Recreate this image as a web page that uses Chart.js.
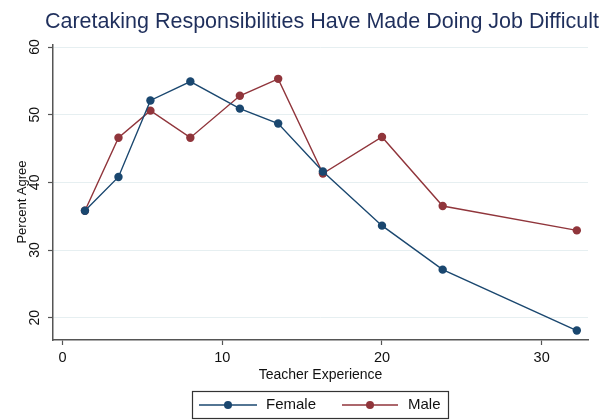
<!DOCTYPE html>
<html>
<head>
<meta charset="utf-8">
<script src="https://cdn.jsdelivr.net/npm/chart.js@4.4.1/dist/chart.umd.min.js"></script>
<style>
html,body{margin:0;padding:0;background:#fff;}
#wrap{width:612px;height:420px;position:relative;}
</style>
</head>
<body>
<div id="wrap"><canvas id="c" width="612" height="420"></canvas></div>
<script>
const titleText = "Caretaking Responsibilities Have Made Doing Job Difficult";
const xTitle = "Teacher Experience";
const yTitle = "Percent Agree";
const experience = [1.4, 3.5, 5.5, 8.0, 11.1, 13.5, 16.3, 20.0, 23.8, 32.2];
const femaleVals = [35.8, 40.8, 52.1, 54.9, 50.9, 48.7, 41.6, 33.6, 27.1, 18.1];
const maleVals   = [35.8, 46.6, 50.6, 46.6, 52.8, 55.3, 41.3, 46.7, 36.5, 32.9];
const seriesNames = ["Female", "Male"];
const seriesColors = ["#1a476f", "#90353b"];
const xTicks = [0, 10, 20, 30];
const yTicks = [20, 30, 40, 50, 60];

const FONT = "'Liberation Sans', Arial, sans-serif";

function pts(vals){ return experience.map((x,i)=>({x:x, y:vals[i]})); }

const custom = {
  id: 'custom',
  afterDraw(chart){
    const ctx = chart.ctx;
    const ca = chart.chartArea;
    const ys = chart.scales.y;
    const xs = chart.scales.x;
    ctx.save();
    // title
    ctx.fillStyle = '#1f2f5c';
    ctx.font = '21.5px ' + FONT;
    ctx.textAlign = 'center';
    ctx.textBaseline = 'middle';
    ctx.fillText(titleText, 322, 22);
    // y tick labels rotated
    ctx.fillStyle = '#111';
    ctx.font = '14px ' + FONT;
    yTicks.forEach(v=>{
      const py = ys.getPixelForValue(v);
      ctx.save();
      ctx.translate(35, py);
      ctx.rotate(-Math.PI/2);
      ctx.textAlign='center'; ctx.textBaseline='middle';
      ctx.fillText(String(v), 0, 0);
      ctx.restore();
    });
    // x tick labels
    ctx.font = '14.5px ' + FONT;
    ctx.textAlign='center'; ctx.textBaseline='middle';
    xTicks.forEach(v=>{
      ctx.fillText(String(v), xs.getPixelForValue(v), 358);
    });
    // y title
    ctx.save();
    ctx.translate(22, 202);
    ctx.rotate(-Math.PI/2);
    ctx.font = '13px ' + FONT;
    ctx.textAlign='center'; ctx.textBaseline='middle';
    ctx.fillText(yTitle, 0, 0);
    ctx.restore();
    // x title
    ctx.font = '14px ' + FONT;
    ctx.textAlign='center'; ctx.textBaseline='middle';
    ctx.fillText(xTitle, (ca.left+ca.right)/2, 375);
    // legend
    ctx.strokeStyle = '#333';
    ctx.lineWidth = 1.2;
    ctx.strokeRect(192.5, 391.5, 256, 27);
    const items = [{x0:199,x1:257,tx:266},{x0:342,x1:398,tx:408}];
    items.forEach((it,i)=>{
      ctx.strokeStyle = seriesColors[i];
      ctx.lineWidth = 1.5;
      ctx.beginPath(); ctx.moveTo(it.x0,405); ctx.lineTo(it.x1,405); ctx.stroke();
      ctx.fillStyle = seriesColors[i];
      ctx.beginPath(); ctx.arc((it.x0+it.x1)/2,405,4,0,Math.PI*2); ctx.fill();
      ctx.fillStyle = '#111';
      ctx.font = '15px ' + FONT;
      ctx.textAlign='left'; ctx.textBaseline='middle';
      ctx.fillText(seriesNames[i], it.tx, 405);
    });
    ctx.restore();
  }
};

new Chart(document.getElementById('c'), {
  type: 'scatter',
  data: {
    datasets: [
      {label: seriesNames[0], data: pts(femaleVals), showLine: true, borderColor: seriesColors[0], backgroundColor: seriesColors[0], borderWidth: 1.4, pointRadius: 4.2, pointBorderWidth: 0, pointHoverRadius: 4.2},
      {label: seriesNames[1], data: pts(maleVals), showLine: true, borderColor: seriesColors[1], backgroundColor: seriesColors[1], borderWidth: 1.4, pointRadius: 4.2, pointBorderWidth: 0, pointHoverRadius: 4.2}
    ]
  },
  options: {
    responsive: false,
    animation: false,
    devicePixelRatio: 1,
    layout: {padding: {top: 45, left: 43, right: 24, bottom: 70}},
    plugins: {legend: {display: false}, title: {display: false}, tooltip: {enabled: false}},
    scales: {
      x: {
        type: 'linear', min: -0.6, max: 32.9,
        afterBuildTicks: s => { s.ticks = xTicks.map(v=>({value:v})); },
        afterFit: s => { s.height = 10; },
        grid: {drawOnChartArea: false, drawTicks: true, tickLength: 5, tickColor: '#555', tickWidth: 1.2},
        border: {display: true, color: '#555', width: 1.5},
        ticks: {display: false}
      },
      y: {
        type: 'linear', min: 16.7, max: 60.3,
        afterBuildTicks: s => { s.ticks = yTicks.map(v=>({value:v})); },
        afterFit: s => { s.width = 10; },
        grid: {color: '#e6eff1', lineWidth: 1, drawTicks: true, tickLength: 5, tickColor: '#555', tickWidth: 1.2},
        border: {display: true, color: '#555', width: 1.5},
        ticks: {display: false}
      }
    }
  },
  plugins: [custom]
});
</script>
</body>
</html>
